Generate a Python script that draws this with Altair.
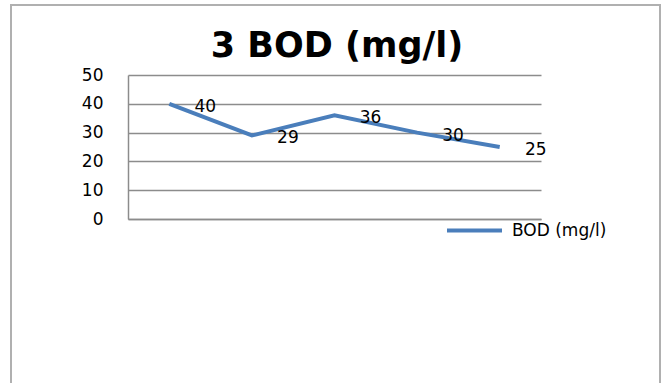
import altair as alt
import pandas as pd

categories = ["1", "2", "3", "4", "5"]
values = [40, 29, 36, 30, 25]
series_name = "BOD (mg/l)"
y_ticks = [0, 10, 20, 30, 40, 50]
title_text = "3 BOD (mg/l)"

df = pd.DataFrame({"cat": categories, "value": values, "series": [series_name] * len(values)})

FONT = "DejaVu Sans"
BLUE = "#4A7EBB"
GRID = "#8c8c8c"

x_enc = alt.X("cat:N", sort=categories,
              scale=alt.Scale(type="point", padding=0.5),
              axis=alt.Axis(labels=False, ticks=False, title=None, grid=False,
                            domainColor=GRID, domainWidth=1.5))
y_enc = alt.Y("value:Q", scale=alt.Scale(domain=[0, 50], nice=False),
              axis=alt.Axis(values=y_ticks, ticks=False, title=None, grid=True,
                            gridColor=GRID, gridWidth=1.5, domainColor=GRID, domainWidth=1.5,
                            labelFont=FONT, labelFontSize=17, labelColor="#000000",
                            labelPadding=25, labelOverlap=False, labelBound=False,
                            labelFlush=False))

line = alt.Chart(df).mark_line(strokeWidth=4).encode(
    x=x_enc, y=y_enc,
    color=alt.Color("series:N", scale=alt.Scale(range=[BLUE]),
                    legend=alt.Legend(orient="none", legendX=317, legendY=126, title=None,
                                      symbolType="stroke", symbolSize=3025,
                                      symbolStrokeWidth=4, labelFont=FONT,
                                      labelFontSize=17, labelColor="#000000",
                                      labelOffset=8)),
)

labels = alt.Chart(df).mark_text(dx=36, dy=3, font=FONT, fontSize=17, color="#000000").encode(
    x=x_enc, y=y_enc, text="value:Q")

frame = alt.Chart(df).mark_rect(filled=False, stroke="#b0b0b0", strokeWidth=2).encode(
    x=alt.value(11 - 128), x2=alt.value(660 - 128), y=alt.value(5 - 75), y2=alt.value(420 - 75))

title = alt.Chart(pd.DataFrame({"t": [title_text]})).mark_text(
    font=FONT, fontSize=35, fontWeight="bold", color="#000000", baseline="alphabetic",
    align="center").encode(x=alt.value(337 - 128), y=alt.value(57 - 75), text="t:N")

chart = alt.layer(line, labels, frame, title).properties(
    width=413, height=144,
    background="white",
    autosize=alt.AutoSizeParams(type="none"),
    padding={"left": 128, "top": 75, "right": 121, "bottom": 164},
).configure_view(stroke="transparent", strokeWidth=0)

chart.save("out.html", embed_options={"renderer": "svg", "actions": False})
